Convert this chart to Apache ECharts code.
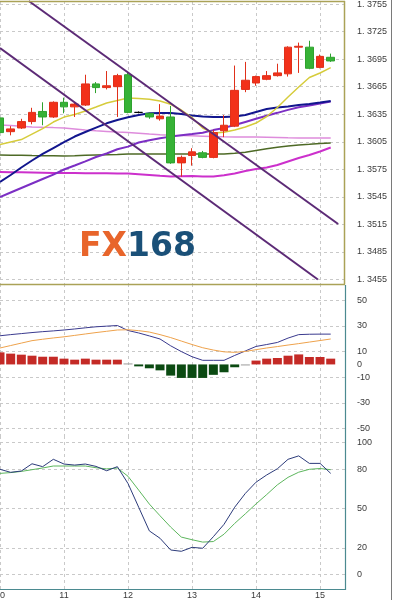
<!DOCTYPE html>
<html><head><meta charset="utf-8">
<script src="https://cdn.jsdelivr.net/npm/echarts@6/dist/echarts.min.js"></script>
<style>html,body{margin:0;padding:0;background:#fff}#c{width:395px;height:600px}</style>
</head><body><div id="c"></div>
<script>
// ---- tick labels ----
const dayLabels = ['10','11','12','13','14','15'];
const dayTickIdx = [0,6,12,18,24,30];
const priceTicks = [1.3755,1.3725,1.3695,1.3665,1.3635,1.3605,1.3575,1.3545,1.3515,1.3485,1.3455];
const macdLabels = [50,30,10,0,-10,-30,-50];
const macdGridVals = [50,30,10,-10,-30,-50];
const stochTicks = [100,80,50,20,0];

// ---- 4H candles ----
const opens  = [1.3631,1.3616,1.3620,1.3627,1.3638,1.3632,1.3648,1.3643,1.3645,1.3668,1.3664,1.3665,1.3678,1.3637,1.3636,1.3630,1.3632,1.3582,1.3590,1.3593,1.3588,1.3617,1.3622,1.3662,1.3669,1.3673,1.3677,1.3679,1.3708,1.3708,1.3686,1.3697];
const closes = [1.3615,1.3619,1.3627,1.3637,1.3632,1.3648,1.3643,1.3646,1.3668,1.3664,1.3666,1.3677,1.3637,1.3637,1.3632,1.3633,1.3582,1.3588,1.3594,1.3588,1.3615,1.3623,1.3661,1.3672,1.3676,1.3677,1.3680,1.3708,1.3709,1.3685,1.3698,1.3693];
const lows   = [1.3612,1.3612,1.3619,1.3624,1.3623,1.3631,1.3636,1.3632,1.3644,1.3658,1.3662,1.3632,1.3636,1.3636,1.3630,1.3628,1.3581,1.3567,1.3579,1.3587,1.3587,1.3610,1.3621,1.3659,1.3666,1.3672,1.3676,1.3676,1.3680,1.3684,1.3685,1.3692];
const highs  = [1.3633,1.3622,1.3630,1.3642,1.3648,1.3649,1.3653,1.3648,1.3678,1.3670,1.3682,1.3679,1.3680,1.3638,1.3637,1.3646,1.3644,1.3590,1.3598,1.3595,1.3618,1.3634,1.3688,1.3692,1.3677,1.3682,1.3690,1.3709,1.3713,1.3715,1.3700,1.3701];

// ---- moving averages ----
const maYellow  = [1.36020,1.36047,1.36074,1.36134,1.36194,1.36265,1.36319,1.36347,1.36385,1.36428,1.36472,1.36499,1.36526,1.36521,1.36513,1.36494,1.36458,1.36396,1.36314,1.36200,1.36145,1.36153,1.36178,1.36211,1.36254,1.36325,1.36423,1.36537,1.36646,1.36750,1.36799,1.36858];
const maNavy    = [1.35612,1.35688,1.35770,1.35846,1.35917,1.35982,1.36047,1.36107,1.36156,1.36204,1.36251,1.36287,1.36316,1.36341,1.36361,1.36363,1.36363,1.36352,1.36336,1.36325,1.36319,1.36319,1.36325,1.36341,1.36374,1.36407,1.36423,1.36434,1.36450,1.36461,1.36477,1.36494];
const maPurple  = [1.35448,1.35497,1.35546,1.35595,1.35644,1.35693,1.35748,1.35791,1.35837,1.35884,1.35922,1.35968,1.35997,1.36042,1.36066,1.36088,1.36106,1.36120,1.36134,1.36149,1.36177,1.36201,1.36232,1.36266,1.36300,1.36334,1.36365,1.36397,1.36425,1.36446,1.36466,1.36487];
const maPink    = [1.36232,1.36226,1.36218,1.36211,1.36207,1.36204,1.36200,1.36189,1.36178,1.36170,1.36163,1.36156,1.36150,1.36142,1.36134,1.36127,1.36121,1.36118,1.36115,1.36111,1.36107,1.36104,1.36102,1.36102,1.36102,1.36099,1.36096,1.36093,1.36091,1.36091,1.36091,1.36091];
const maOlive   = [1.35906,1.35904,1.35902,1.35900,1.35899,1.35897,1.35895,1.35898,1.35902,1.35906,1.35909,1.35912,1.35917,1.35917,1.35917,1.35917,1.35917,1.35917,1.35917,1.35917,1.35917,1.35917,1.35924,1.35935,1.35955,1.35973,1.35990,1.36004,1.36015,1.36022,1.36030,1.36036];
const maMagenta = [1.35720,1.35718,1.35717,1.35715,1.35713,1.35711,1.35709,1.35709,1.35708,1.35707,1.35706,1.35705,1.35704,1.35696,1.35688,1.35679,1.35673,1.35675,1.35677,1.35673,1.35671,1.35685,1.35704,1.35731,1.35753,1.35770,1.35797,1.35835,1.35873,1.35906,1.35944,1.35987];

// ---- trend lines [barIndex, price] ----
const trendA = [[2.7,1.37583],[31.7,1.35154]];
const trendB = [[0,1.37071],[29.8,1.3455]];

// ---- MACD ----
const macdHist   = [9.4,8.4,7.6,6.8,6.0,6.0,4.5,3.7,4.5,3.7,3.7,3.7,0.3,-1.5,-3.0,-4.6,-8.7,-10.5,-10.5,-10.5,-8.1,-6.1,-2.2,-0.3,3.0,4.5,5.0,6.8,7.8,5.8,5.8,4.5];
const macdMain   = [22.3,23.2,24.0,24.8,25.5,26.1,26.8,27.6,28.5,29.3,29.8,30.3,26.4,24.5,22.2,19.8,14.5,10.0,6.0,3.2,3.2,3.2,7.0,10.5,14.0,15.5,17.1,20.5,23.2,23.5,23.6,23.6];
const macdSignal = [12.8,14.7,16.6,18.5,19.6,20.6,21.5,22.6,23.7,24.8,25.8,26.8,27.0,26.3,25.2,23.2,20.9,18.2,15.5,13.0,11.2,9.8,9.4,10.1,11.5,12.8,13.9,15.1,16.2,17.4,18.6,19.8];

// ---- Stochastic ----
const stochK = [79.8,77.5,78.5,84.0,81.8,87.4,83.8,83.0,83.8,82.0,78.7,81.8,69.0,51.0,33.0,27.4,18.5,17.5,20.5,19.8,28.6,38.0,51.0,61.5,70.0,75.5,80.2,87.4,90.0,84.3,84.3,76.7];
const stochD = [76.7,77.3,78.2,79.5,80.8,82.3,82.3,82.3,82.3,81.0,80.1,80.8,74.5,64.0,53.4,44.5,35.9,28.3,26.3,24.5,24.9,30.5,38.7,46.0,53.5,60.6,68.0,73.7,77.6,79.8,80.4,79.5];

const pair = arr => arr.map((v, i) => [i, v]);
const candleData = opens.map((o, i) => [i, o, closes[i], lows[i], highs[i]]);

const FONT = 'Liberation Sans';
const labelStyle = { fontFamily: FONT, fontSize: 9, color: '#3a3a3a' };
const split = { show: true, lineStyle: { color: '#c9c9c9', type: [3, 3], width: 1 } };
const XMAX = 32.34;

function xAx(gi, showLabel) {
  return {
    type: 'value', gridIndex: gi, min: 0, max: XMAX,
    axisLine: { show: false }, axisTick: { show: false, customValues: dayTickIdx },
    splitLine: split,
    axisLabel: Object.assign({ show: showLabel, customValues: dayTickIdx, margin: 1, hideOverlap: false,
      formatter: v => dayLabels[dayTickIdx.indexOf(Math.round(v))] || '' }, labelStyle)
  };
}
function yAx(gi, min, max, labels, ticks, fmt) {
  return {
    type: 'value', gridIndex: gi, position: 'right', min: min, max: max,
    axisLine: { show: false }, axisTick: { show: false, customValues: ticks },
    splitLine: split,
    axisLabel: Object.assign({ customValues: labels, margin: 12, align: 'left', formatter: fmt }, labelStyle)
  };
}
function line(data, color, width, xi, yi, z) {
  return { type: 'line', data: data, xAxisIndex: xi, yAxisIndex: yi, showSymbol: false, symbol: 'none',
    silent: true, z: z || 2, lineStyle: { color: color, width: width } };
}
const gridBase = { left: 0, width: 345, show: false, containLabel: false, outerBoundsMode: 'none' };

const option = {
  animation: false,
  backgroundColor: '#ffffff',
  grid: [
    Object.assign({ top: 1, height: 283 }, gridBase),
    Object.assign({ top: 284, height: 152 }, gridBase),
    Object.assign({ top: 436, height: 154 }, gridBase)
  ],
  xAxis: [xAx(0, false), xAx(1, false), xAx(2, true)],
  yAxis: [
    yAx(0, 1.34501, 1.37583, priceTicks, priceTicks, v => v.toFixed(4).replace('1.', '1. ')),
    yAx(1, -55.7, 62.6, macdLabels, macdGridVals, v => String(Math.round(v))),
    yAx(2, -11.9, 105.1, stochTicks, stochTicks, v => String(Math.round(v)))
  ],
  series: [
    line(pair(maPink), '#de8cdc', 1.5, 0, 0),
    line(pair(maOlive), '#4e6a26', 1.5, 0, 0),
    line(pair(maMagenta), '#cc30cc', 2, 0, 0),
    line(pair(maPurple), '#7c2fc4', 2, 0, 0),
    line(pair(maNavy), '#12168e', 2, 0, 0),
    line(pair(maYellow), '#d6cc3c', 1.5, 0, 0),
    {
      type: 'candlestick', xAxisIndex: 0, yAxisIndex: 0, data: candleData, barWidth: 8, z: 5, silent: true,
      itemStyle: { color: '#f2311a', color0: '#36b236', borderColor: '#e0301a', borderColor0: '#2ea22e',
        borderColorDoji: '#000000', borderWidth: 1 }
    },
    line(trendA, '#5c2a76', 2, 0, 0, 6),
    line(trendB, '#5c2a76', 2, 0, 0, 6),
    {
      type: 'bar', xAxisIndex: 1, yAxisIndex: 1, data: pair(macdHist), barWidth: 9, barMinHeight: 1, silent: true,
      itemStyle: { color: p => { const v = p.value[1]; return v > 0.5 ? '#c42a26' : (v < -0.5 ? '#0b4a12' : '#9a9a9a'); } }
    },
    line(pair(macdMain), '#3a3a8e', 1, 1, 1, 4),
    line(pair(macdSignal), '#eea24c', 1, 1, 1, 4),
    line(pair(stochD), '#5db65d', 1, 2, 2, 4),
    line(pair(stochK), '#2c3b7a', 1, 2, 2, 4)
  ],
  graphic: [
    { type: 'line', shape: { x1: 0, y1: 1.5, x2: 345, y2: 1.5 }, style: { stroke: '#aaa257', lineWidth: 1.5 }, z: 10 },
    { type: 'line', shape: { x1: 344.5, y1: 1, x2: 344.5, y2: 284.5 }, style: { stroke: '#aaa257', lineWidth: 1.5 }, z: 10 },
    { type: 'line', shape: { x1: 0, y1: 284.5, x2: 345, y2: 284.5 }, style: { stroke: '#aaa257', lineWidth: 1.5 }, z: 10 },
    { type: 'line', shape: { x1: 345.5, y1: 285, x2: 345.5, y2: 590 }, style: { stroke: '#4b8a90', lineWidth: 1.2 }, z: 10 },
    { type: 'line', shape: { x1: 0, y1: 589.5, x2: 346, y2: 589.5 }, style: { stroke: '#4b8a90', lineWidth: 1.2 }, z: 10 },
    { type: 'line', shape: { x1: 391.5, y1: 0, x2: 391.5, y2: 600 }, style: { stroke: '#7a7a7a', lineWidth: 1 }, z: 10 },
    {
      type: 'text', left: 79, top: 231, z: 10, silent: true,
      style: {
        text: '{a|FX}{b|168}',
        rich: {
          a: { fontFamily: 'DejaVu Sans', fontWeight: 'bold', fontSize: 33, fill: '#e8652b' },
          b: { fontFamily: 'DejaVu Sans', fontWeight: 'bold', fontSize: 33, fill: '#1a5078' }
        }
      }
    }
  ]
};
const chart = echarts.init(document.getElementById('c'), null, { renderer: 'canvas' });
chart.setOption(option);
</script></body></html>
